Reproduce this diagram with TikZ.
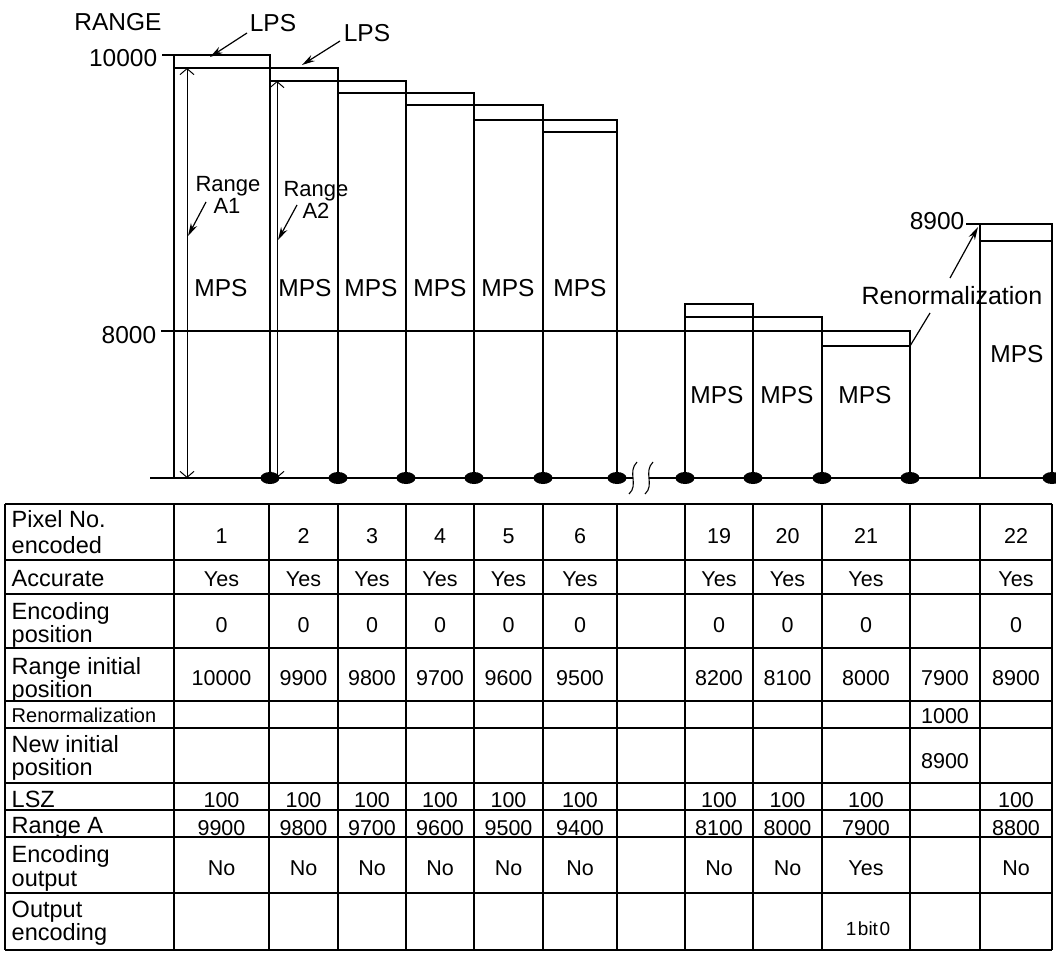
\documentclass[tikz,border=0pt]{standalone}
\usepackage{fontspec}
\setmainfont{Liberation Sans}
\usetikzlibrary{arrows.meta}
\begin{document}
\begin{tikzpicture}[x=1pt,y=-1pt,
  line width=1.5pt,
  chart/.style={font=\fontsize{24.5}{24.5}\selectfont, inner sep=0pt, anchor=base},
  rlab/.style={font=\fontsize{22}{22}\selectfont, inner sep=0pt, anchor=base},
  lab/.style={font=\fontsize{23.5}{23.5}\selectfont, inner sep=0pt, anchor=base west},
  val/.style={font=\fontsize{21.5}{21.5}\selectfont, inner sep=0pt, anchor=base},
  ptr/.style={line width=1.2pt, -{Stealth[length=13pt,width=7pt]}},
  dbl/.style={line width=1pt, {Straight Barb[length=6pt,width=14pt]}-{Straight Barb[length=6pt,width=14pt]}},
  brk/.style={line width=1.1pt}]

\useasboundingbox (0,0) rectangle (1056,952);

% ---------- bars ----------
\foreach \a/\b/\t/\i in {174/270/55/68, 270/338/68/81, 338/406/81/93, 406/474/93/105,
   474/543/105/120, 543/617/120/132, 685/753/304/317, 753/822/317/331,
   822/910/331/346, 980/1052/224/241} {
  \draw (\a,478) -- (\a,\t) -- (\b,\t) -- (\b,478);
  \draw (\a,\i) -- (\b,\i);
}

% baseline with break
\draw (150,478) -- (633,478);
\draw (649,478) -- (1056,478);
\draw[brk] (637,462) .. controls (627,472) and (639,485) .. (629,494);
\draw[brk] (653,462) .. controls (643,472) and (655,485) .. (645,494);

% ticks / reference lines
\draw (162,55) -- (174,55);
\draw (161,331) -- (910,331);
\draw (966,224) -- (980,224);

% dots
\foreach \x in {270,338,406,474,543,617,685,753,822,910,1052}
  \fill (\x,478) ellipse [x radius=9.5pt, y radius=6pt];

% ---------- chart labels ----------
\node[chart] (range) at (118,31) {RANGE};
\node[chart, anchor=base east] (t10000) at (158,67) {10000};
\node[chart, anchor=base east] (t8000) at (157,343) {8000};
\node[chart, anchor=base east] (t8900) at (965,229) {8900};
\node[chart] (lps1) at (273,32) {LPS};
\node[chart] (lps2) at (367,42) {LPS};
\node[rlab] (ra1a) at (228,191) {Range};
\node[rlab] (ra1b) at (227,213) {A1};
\node[rlab] (ra2a) at (316,196) {Range};
\node[rlab] (ra2b) at (316,218) {A2};
\foreach \x/\y [count=\k] in {221/296, 305/296, 371/296, 440/296, 508/296, 580/296,
    717/403, 787/403, 865/403, 1017/362}
  \node[chart] (mps\k) at (\x,\y) {MPS};
\node[chart, font=\fontsize{25}{25}\selectfont] (renorm) at (952,304) {Renormalization};

% ---------- pointers ----------
\coordinate (lps1from) at (247,33);  \coordinate (lps1to) at (210,57);
\coordinate (lps2from) at (340,41);  \coordinate (lps2to) at (302,65);
\coordinate (ra1from) at (206,202);  \coordinate (ra1to) at (188,236);
\coordinate (ra2from) at (297,205);  \coordinate (ra2to) at (278,240);
\coordinate (renfrom) at (950,278);  \coordinate (rento) at (978,227);
\coordinate (renlfrom) at (930,313); \coordinate (renlto) at (910,346);
\draw[ptr] (lps1from) -- (lps1to);
\draw[ptr] (lps2from) -- (lps2to);
\draw[ptr] (ra1from) -- (ra1to);
\draw[ptr] (ra2from) -- (ra2to);
\draw[ptr] (renfrom) -- (rento);
\draw[line width=1.2pt] (renlfrom) -- (renlto);

\coordinate (a1top) at (187,68);  \coordinate (a1bot) at (187,478);
\coordinate (a2top) at (277,81);  \coordinate (a2bot) at (277,478);
\draw[dbl] (a1top) -- (a1bot);
\draw[dbl] (a2top) -- (a2bot);

% ---------- table ----------
\foreach \y in {504,560,594,648,701,728,783,810,837,893,950}
  \draw (5,\y) -- (1052,\y);
\foreach \x in {5,174,269,338,406,474,543,617,685,753,822,910,980,1052}
  \draw (\x,504) -- (\x,950);

% row labels
\node[lab] (l1a) at (11,527) {Pixel No.};
\node[lab] (l1b) at (11,553) {encoded};
\node[lab] (l2)  at (11,586) {Accurate};
\node[lab] (l3a) at (11,619) {Encoding};
\node[lab] (l3b) at (11,642) {position};
\node[lab] (l4a) at (11,674) {Range initial};
\node[lab] (l4b) at (11,697) {position};
\node[lab, font=\fontsize{20}{20}\selectfont] (l5) at (11,722) {Renormalization};
\node[lab] (l6a) at (11,752) {New initial};
\node[lab] (l6b) at (11,775) {position};
\node[lab] (l7)  at (11,807) {LSZ};
\node[lab] (l8)  at (11,833) {Range A};
\node[lab] (l9a) at (11,862) {Encoding};
\node[lab] (l9b) at (11,886) {output};
\node[lab] (l10a) at (11,917) {Output};
\node[lab] (l10b) at (11,940) {encoding};

% values
\def\colcenters{{221.5,303.5,372,440,508.5,580,651,719,787.5,866,945,1016}}
\newcommand\valrow[2]{%
  \foreach \c/\v in {#2} {
    \pgfmathsetmacro\cx{\colcenters[\c-1]}
    \node[val] (v-#1-\c) at (\cx,#1) {\v};
  }}
\valrow{543}{1/1,2/2,3/3,4/4,5/5,6/6,8/19,9/20,10/21,12/22}
\valrow{586}{1/Yes,2/Yes,3/Yes,4/Yes,5/Yes,6/Yes,8/Yes,9/Yes,10/Yes,12/Yes}
\valrow{632}{1/0,2/0,3/0,4/0,5/0,6/0,8/0,9/0,10/0,12/0}
\valrow{685}{1/10000,2/9900,3/9800,4/9700,5/9600,6/9500,8/8200,9/8100,10/8000,11/7900,12/8900}
\valrow{723}{11/1000}
\valrow{768}{11/8900}
\valrow{807}{1/100,2/100,3/100,4/100,5/100,6/100,8/100,9/100,10/100,12/100}
\valrow{835}{1/9900,2/9800,3/9700,4/9600,5/9500,6/9400,8/8100,9/8000,10/7900,12/8800}
\valrow{875}{1/No,2/No,3/No,4/No,5/No,6/No,8/No,9/No,10/Yes,12/No}
\node[val, font=\fontsize{19}{19}\selectfont] (obit) at (868,935) {1\hspace{1.5pt}bit\hspace{1.5pt}0};

\end{tikzpicture}
\end{document}
